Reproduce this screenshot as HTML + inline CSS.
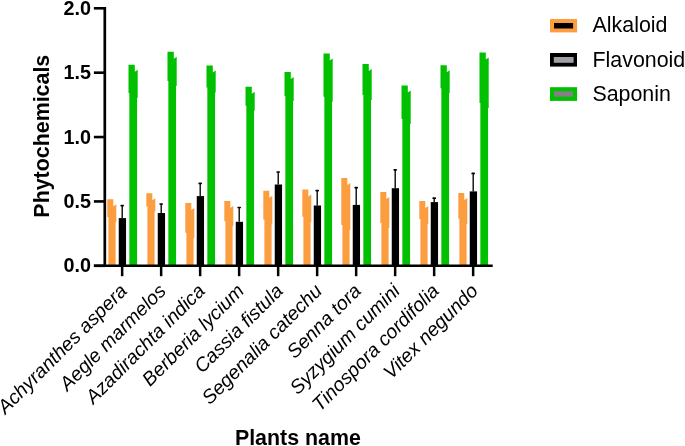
<!DOCTYPE html>
<html><head><meta charset="utf-8"><title>Phytochemicals chart</title>
<style>
html,body{margin:0;padding:0;background:#fff;}
svg{display:block;}
text{font-family:"Liberation Sans",Arial,sans-serif;fill:#000;}
.yt{font-size:19.8px;font-weight:bold;text-anchor:end;}
.xl{font-size:19.5px;font-style:italic;text-anchor:end;}
.lg{font-size:21.4px;}
.tt{font-size:21.4px;font-weight:bold;}
</style></head>
<body>
<svg width="685" height="446" viewBox="0 0 685 446">
<rect width="685" height="446" fill="#fff"/>
<polygon fill="#FC9D40" points="107.3,199.3 113.3,199.3 113.3,206.3 116.3,204.3 116.3,222 115.6,222 115.6,265.6 108.4,265.6 108.4,217 107.3,217"/>
<polygon fill="#00C000" points="128.5,64.7 134.8,64.7 134.8,71.7 137.7,69.7 137.7,98.1 137.05,98.1 137.05,265.6 129.35,265.6 129.35,93.1 128.5,93.1"/>
<rect x="118.75" y="218.1" width="7.3" height="47.5" fill="#000"/>
<line x1="122.2" y1="205.6" x2="122.2" y2="218.1" stroke="#000" stroke-width="1.35"/>
<line x1="121.2" y1="205.6" x2="123.2" y2="205.6" stroke="#000" stroke-width="1.7" stroke-linecap="round"/>
<polygon fill="#FC9D40" points="146.3,193.2 152.3,193.2 152.3,200.2 155.3,198.2 155.3,211.5 154.6,211.5 154.6,265.6 147.4,265.6 147.4,206.5 146.3,206.5"/>
<polygon fill="#00C000" points="167.5,51.7 173.8,51.7 173.8,58.7 176.7,56.7 176.7,86.1 176.05,86.1 176.05,265.6 168.35,265.6 168.35,81.1 167.5,81.1"/>
<rect x="157.75" y="213" width="7.3" height="52.6" fill="#000"/>
<line x1="161.2" y1="204" x2="161.2" y2="213" stroke="#000" stroke-width="1.35"/>
<line x1="160.2" y1="204" x2="162.2" y2="204" stroke="#000" stroke-width="1.7" stroke-linecap="round"/>
<polygon fill="#FC9D40" points="185.3,203 191.3,203 191.3,210 194.3,208 194.3,237.7 193.6,237.7 193.6,265.6 186.4,265.6 186.4,232.7 185.3,232.7"/>
<polygon fill="#00C000" points="206.5,65.5 212.8,65.5 212.8,72.5 215.7,70.5 215.7,92.5 215.05,92.5 215.05,265.6 207.35,265.6 207.35,87.5 206.5,87.5"/>
<rect x="196.75" y="196.1" width="7.3" height="69.5" fill="#000"/>
<line x1="200.2" y1="183.4" x2="200.2" y2="196.1" stroke="#000" stroke-width="1.35"/>
<line x1="199.2" y1="183.4" x2="201.2" y2="183.4" stroke="#000" stroke-width="1.7" stroke-linecap="round"/>
<polygon fill="#FC9D40" points="224.3,201 230.3,201 230.3,208 233.3,206 233.3,226.2 232.6,226.2 232.6,265.6 225.4,265.6 225.4,221.2 224.3,221.2"/>
<polygon fill="#00C000" points="245.5,86.7 251.8,86.7 251.8,93.7 254.7,91.7 254.7,110.7 254.05,110.7 254.05,265.6 246.35,265.6 246.35,105.7 245.5,105.7"/>
<rect x="235.75" y="221.8" width="7.3" height="43.8" fill="#000"/>
<line x1="239.2" y1="207.5" x2="239.2" y2="221.8" stroke="#000" stroke-width="1.35"/>
<line x1="238.2" y1="207.5" x2="240.2" y2="207.5" stroke="#000" stroke-width="1.7" stroke-linecap="round"/>
<polygon fill="#FC9D40" points="263.3,190.8 269.3,190.8 269.3,197.8 272.3,195.8 272.3,224.5 271.6,224.5 271.6,265.6 264.4,265.6 264.4,219.5 263.3,219.5"/>
<polygon fill="#00C000" points="284.5,72.1 290.8,72.1 290.8,79.1 293.7,77.1 293.7,101.1 293.05,101.1 293.05,265.6 285.35,265.6 285.35,96.1 284.5,96.1"/>
<rect x="274.75" y="184.5" width="7.3" height="81.1" fill="#000"/>
<line x1="278.2" y1="172" x2="278.2" y2="184.5" stroke="#000" stroke-width="1.35"/>
<line x1="277.2" y1="172" x2="279.2" y2="172" stroke="#000" stroke-width="1.7" stroke-linecap="round"/>
<polygon fill="#FC9D40" points="302.3,189.4 308.3,189.4 308.3,196.4 311.3,194.4 311.3,221.7 310.6,221.7 310.6,265.6 303.4,265.6 303.4,216.7 302.3,216.7"/>
<polygon fill="#00C000" points="323.5,53.6 329.8,53.6 329.8,60.6 332.7,58.6 332.7,101.8 332.05,101.8 332.05,265.6 324.35,265.6 324.35,96.8 323.5,96.8"/>
<rect x="313.75" y="205.5" width="7.3" height="60.1" fill="#000"/>
<line x1="317.2" y1="190.6" x2="317.2" y2="205.5" stroke="#000" stroke-width="1.35"/>
<line x1="316.2" y1="190.6" x2="318.2" y2="190.6" stroke="#000" stroke-width="1.7" stroke-linecap="round"/>
<polygon fill="#FC9D40" points="341.3,178.1 347.3,178.1 347.3,185.1 350.3,183.1 350.3,230.1 349.6,230.1 349.6,265.6 342.4,265.6 342.4,225.1 341.3,225.1"/>
<polygon fill="#00C000" points="362.5,64.1 368.8,64.1 368.8,71.1 371.7,69.1 371.7,100.1 371.05,100.1 371.05,265.6 363.35,265.6 363.35,95.1 362.5,95.1"/>
<rect x="352.75" y="204.9" width="7.3" height="60.7" fill="#000"/>
<line x1="356.2" y1="187.7" x2="356.2" y2="204.9" stroke="#000" stroke-width="1.35"/>
<line x1="355.2" y1="187.7" x2="357.2" y2="187.7" stroke="#000" stroke-width="1.7" stroke-linecap="round"/>
<polygon fill="#FC9D40" points="380.3,192 386.3,192 386.3,199 389.3,197 389.3,228 388.6,228 388.6,265.6 381.4,265.6 381.4,223 380.3,223"/>
<polygon fill="#00C000" points="401.5,85.4 407.8,85.4 407.8,92.4 410.7,90.4 410.7,124 410.05,124 410.05,265.6 402.35,265.6 402.35,119 401.5,119"/>
<rect x="391.75" y="188.2" width="7.3" height="77.4" fill="#000"/>
<line x1="395.2" y1="169.8" x2="395.2" y2="188.2" stroke="#000" stroke-width="1.35"/>
<line x1="394.2" y1="169.8" x2="396.2" y2="169.8" stroke="#000" stroke-width="1.7" stroke-linecap="round"/>
<polygon fill="#FC9D40" points="419.3,200.9 425.3,200.9 425.3,207.9 428.3,205.9 428.3,224.1 427.6,224.1 427.6,265.6 420.4,265.6 420.4,219.1 419.3,219.1"/>
<polygon fill="#00C000" points="440.5,65.3 446.8,65.3 446.8,72.3 449.7,70.3 449.7,93.3 449.05,93.3 449.05,265.6 441.35,265.6 441.35,88.3 440.5,88.3"/>
<rect x="430.75" y="202.1" width="7.3" height="63.5" fill="#000"/>
<line x1="434.2" y1="198.2" x2="434.2" y2="202.1" stroke="#000" stroke-width="1.35"/>
<line x1="433.2" y1="198.2" x2="435.2" y2="198.2" stroke="#000" stroke-width="1.7" stroke-linecap="round"/>
<polygon fill="#FC9D40" points="458.3,193.1 464.3,193.1 464.3,200.1 467.3,198.1 467.3,223.7 466.6,223.7 466.6,265.6 459.4,265.6 459.4,218.7 458.3,218.7"/>
<polygon fill="#00C000" points="479.5,52.5 485.8,52.5 485.8,59.5 488.7,57.5 488.7,108 488.05,108 488.05,265.6 480.35,265.6 480.35,103 479.5,103"/>
<rect x="469.75" y="191.4" width="7.3" height="74.2" fill="#000"/>
<line x1="473.2" y1="173.4" x2="473.2" y2="191.4" stroke="#000" stroke-width="1.35"/>
<line x1="472.2" y1="173.4" x2="474.2" y2="173.4" stroke="#000" stroke-width="1.7" stroke-linecap="round"/>
<line x1="104.8" y1="7" x2="104.8" y2="267.1" stroke="#000" stroke-width="2.7"/>
<line x1="93.9" y1="265.8" x2="492.7" y2="265.8" stroke="#000" stroke-width="2.6"/>
<line x1="93.9" y1="265.8" x2="104.8" y2="265.8" stroke="#000" stroke-width="2.6"/>
<line x1="93.9" y1="201.43" x2="104.8" y2="201.43" stroke="#000" stroke-width="2.6"/>
<line x1="93.9" y1="137.05" x2="104.8" y2="137.05" stroke="#000" stroke-width="2.6"/>
<line x1="93.9" y1="72.68" x2="104.8" y2="72.68" stroke="#000" stroke-width="2.6"/>
<line x1="93.9" y1="8.3" x2="104.8" y2="8.3" stroke="#000" stroke-width="2.6"/>
<line x1="122.15" y1="265.8" x2="122.15" y2="276.2" stroke="#000" stroke-width="2.5"/>
<line x1="161.15" y1="265.8" x2="161.15" y2="276.2" stroke="#000" stroke-width="2.5"/>
<line x1="200.15" y1="265.8" x2="200.15" y2="276.2" stroke="#000" stroke-width="2.5"/>
<line x1="239.15" y1="265.8" x2="239.15" y2="276.2" stroke="#000" stroke-width="2.5"/>
<line x1="278.15" y1="265.8" x2="278.15" y2="276.2" stroke="#000" stroke-width="2.5"/>
<line x1="317.15" y1="265.8" x2="317.15" y2="276.2" stroke="#000" stroke-width="2.5"/>
<line x1="356.15" y1="265.8" x2="356.15" y2="276.2" stroke="#000" stroke-width="2.5"/>
<line x1="395.15" y1="265.8" x2="395.15" y2="276.2" stroke="#000" stroke-width="2.5"/>
<line x1="434.15" y1="265.8" x2="434.15" y2="276.2" stroke="#000" stroke-width="2.5"/>
<line x1="473.15" y1="265.8" x2="473.15" y2="276.2" stroke="#000" stroke-width="2.5"/>
<text x="91" y="272.4" class="yt">0.0</text>
<text x="91" y="208.03" class="yt">0.5</text>
<text x="91" y="143.65" class="yt">1.0</text>
<text x="91" y="79.28" class="yt">1.5</text>
<text x="91" y="14.9" class="yt">2.0</text>
<text class="xl" transform="translate(128.15 292.1) rotate(-45)">Achyranthes aspera</text>
<text class="xl" transform="translate(167.15 292.1) rotate(-45)">Aegle marmelos</text>
<text class="xl" transform="translate(206.15 292.1) rotate(-45)">Azadirachta indica</text>
<text class="xl" transform="translate(245.15 292.1) rotate(-45)">Berberia lycium</text>
<text class="xl" transform="translate(284.15 292.1) rotate(-45)">Cassia fistula</text>
<text class="xl" transform="translate(323.15 292.1) rotate(-45)">Segenalia catechu</text>
<text class="xl" transform="translate(362.15 292.1) rotate(-45)">Senna tora</text>
<text class="xl" transform="translate(401.15 292.1) rotate(-45)">Syzygium cumini</text>
<text class="xl" transform="translate(440.15 292.1) rotate(-45)">Tinospora cordifolia</text>
<text class="xl" transform="translate(479.15 292.1) rotate(-45)">Vitex negundo</text>

<rect x="550" y="19" width="27.1" height="13.4" fill="#FC9D40"/>
<rect x="554" y="23" width="19.1" height="5.5" fill="#000"/>
<rect x="550" y="53" width="27" height="13.6" fill="#000"/>
<rect x="553.8" y="57" width="19.8" height="5.8" fill="#A09FA6"/>
<rect x="550" y="87.2" width="27.1" height="13.7" fill="#00C000"/>
<rect x="554" y="91.3" width="19.1" height="5.4" fill="#857F87"/>
<text x="592.6" y="32.1" class="lg">Alkaloid</text>
<text x="592.5" y="67" class="lg">Flavonoid</text>
<text x="592.4" y="100.7" class="lg">Saponin</text>

<text class="tt" text-anchor="middle" transform="translate(49.3 136.2) rotate(-90)">Phytochemicals</text>
<text class="tt" x="297.9" y="444.6" text-anchor="middle">Plants name</text>
</svg>
</body></html>
